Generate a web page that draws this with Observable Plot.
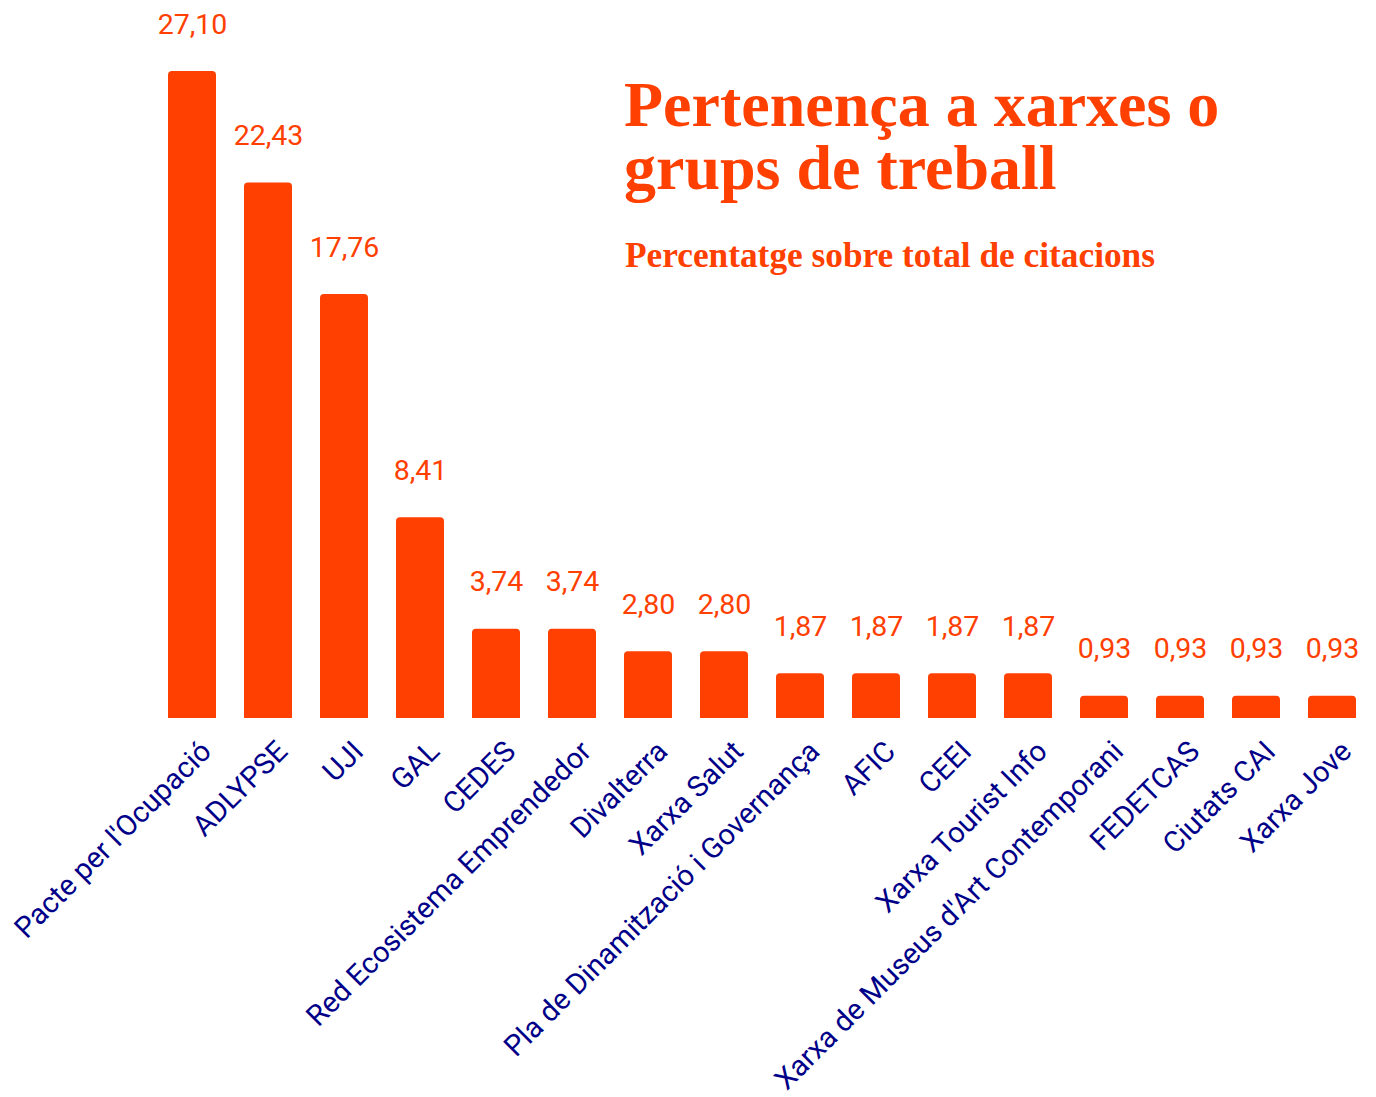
<!DOCTYPE html>
<html>
<head>
<meta charset="utf-8">
<script src="https://cdn.jsdelivr.net/npm/d3@7"></script>
<script src="https://cdn.jsdelivr.net/npm/@observablehq/plot@0.6"></script>
<style>
  html, body { margin: 0; padding: 0; background: #fff; }
  #wrap { position: relative; width: 1376px; height: 1097px; }
  .title { position: absolute; left: 624px; margin: 0; font-family: "Liberation Serif", serif; font-weight: bold; font-size: 64px; line-height: 58px; color: #ff4000; white-space: nowrap; }
  #t1 { top: 75.5px; }
  #t2 { top: 138.5px; }
  #subtitle { position: absolute; left: 625px; top: 236px; margin: 0; font-family: "Liberation Serif", serif; font-weight: bold; font-size: 35.3px; color: #ff4000; white-space: nowrap; }
</style>
</head>
<body>
<div id="wrap">
  <div id="chart"></div>
  <h1 class="title" id="t1">Pertenença a xarxes o</h1>
  <h1 class="title" id="t2">grups de treball</h1>
  <div id="subtitle">Percentatge sobre total de citacions</div>
</div>
<script>
const names = ["Pacte per l'Ocupació", "ADLYPSE", "UJI", "GAL", "CEDES", "Red Ecosistema Emprendedor", "Divalterra", "Xarxa Salut", "Pla de Dinamització i Governança", "AFIC", "CEEI", "Xarxa Tourist Info", "Xarxa de Museus d'Art Contemporani", "FEDETCAS", "Ciutats CAI", "Xarxa Jove"];
const values = [27.10, 22.43, 17.76, 8.41, 3.74, 3.74, 2.80, 2.80, 1.87, 1.87, 1.87, 1.87, 0.93, 0.93, 0.93, 0.93];

const data = names.map((name, i) => ({name, value: values[i]}));
const fmt = v => v.toFixed(2).replace(".", ",");
const orange = "#ff4000";
const navy = "#000088";

const chart = Plot.plot({
  width: 1376,
  height: 1097,
  marginTop: 71,
  marginBottom: 379,
  marginLeft: 158,
  marginRight: 11,
  style: {fontFamily: "Roboto, sans-serif", background: "transparent"},
  x: {domain: names, paddingInner: 0.369, paddingOuter: 0.1, axis: null},
  y: {domain: [0, 27.10], axis: null},
  marks: [
    Plot.barY(data, {x: "name", y: "value", fill: orange, rx: 4, insetBottom: -6, clip: true}),
    Plot.text(data, {x: "name", y: "value", text: d => fmt(d.value), dy: -47, fill: orange, fontSize: 28.5}),
    Plot.text(data, {x: "name", y: 0, text: "name", rotate: -45, textAnchor: "end", lineAnchor: "middle", dx: 14, dy: 28, fill: navy, fontSize: 29})
  ]
});
document.getElementById("chart").appendChild(chart);
</script>
</body>
</html>
